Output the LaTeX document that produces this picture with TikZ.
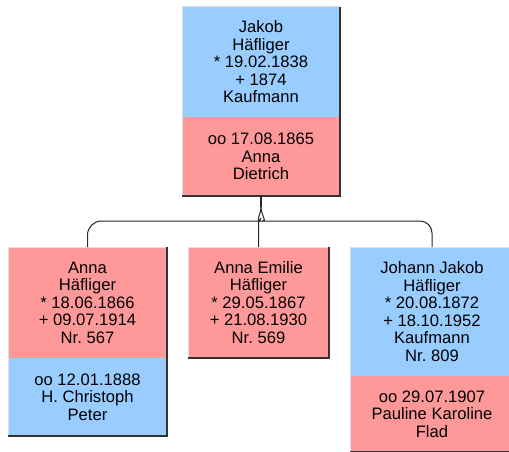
\documentclass[tikz,border=0pt]{standalone}
\usepackage{fontspec}
\setmainfont{Liberation Sans}
\frenchspacing
\definecolor{mblue}{HTML}{99CCFF}
\definecolor{fpink}{HTML}{FF9999}
\tikzset{
 sect/.style={anchor=north west, inner sep=0pt, outer sep=0pt, align=center,
   font=\fontsize{16.6}{17.5}\selectfont\frenchspacing, text=black},
 shadowline/.style={draw=black!80, line width=1.4pt},
 hiline/.style={draw=black!12, line width=1pt},
 conn/.style={draw=black!85, line width=1pt},
}
\begin{document}
\begin{tikzpicture}[x=1pt,y=1pt]
\useasboundingbox (0,0) rectangle (509,451);
\clip (0,0) rectangle (509,451);
% top person
\node[sect, fill=mblue, minimum width=158, minimum height=110] (j) at (182,444)
  {Jakob\\Häfliger\\* 19.02.1838\\+ 1874\\Kaufmann};
\node[sect, fill=fpink, minimum width=158, minimum height=79] (jm) at (j.south west)
  {oo 17.08.1865\\Anna\\Dietrich};
% left child
\node[sect, fill=fpink, minimum width=159, minimum height=111] (a) at (8,204)
  {Anna\\Häfliger\\* 18.06.1866\\+ 09.07.1914\\Nr. 567};
\node[sect, fill=mblue, minimum width=159, minimum height=78] (am) at (a.south west)
  {oo 12.01.1888\\H. Christoph\\Peter};
% middle child
\node[sect, fill=fpink, minimum width=141, minimum height=111] (m) at (188,204)
  {Anna Emilie\\Häfliger\\* 29.05.1867\\+ 21.08.1930\\Nr. 569};
% right child
\node[sect, fill=mblue, minimum width=164, minimum height=129] (r) at (350,204)
  {Johann Jakob\\Häfliger\\* 20.08.1872\\+ 18.10.1952\\Kaufmann\\Nr. 809};
\node[sect, fill=fpink, minimum width=164, minimum height=76] (rm) at (r.south west)
  {oo 29.07.1907\\Pauline Karoline\\Flad};
% box edges
\draw[hiline] (j.north east) -- (j.north west) -- (jm.south west);
\draw[shadowline] (jm.south west) -- (jm.south east) -- (j.north east);
\draw[hiline] (a.north east) -- (a.north west) -- (am.south west);
\draw[shadowline] (am.south west) -- (am.south east) -- (a.north east);
\draw[hiline] (m.north east) -- (m.north west) -- (m.south west);
\draw[shadowline] (m.south west) -- (m.south east) -- (m.north east);
\draw[hiline] (r.north east) -- (r.north west) -- (rm.south west);
\draw[shadowline] (rm.south west) -- (rm.south east) -- (r.north east);
% connectors
\coordinate (fork) at (261,244);
\coordinate (bar) at (261,230);
\coordinate (midtop) at (261,233);
\coordinate (jog) at (258.5,229);
\draw[conn, line width=1.4pt] (jm.south) -- (fork);
\draw[conn, rounded corners=14] (fork) .. controls (261,236) and (255,230) .. (247,230)
  -- (a.north |- bar) -- (a.north);
\draw[conn, rounded corners=12] (fork) .. controls (261,236) and (267,230) .. (275,230)
  -- (r.north |- bar) -- (r.north);
\draw[conn] (midtop) -- (jog) -- (m.north);
\end{tikzpicture}
\end{document}
